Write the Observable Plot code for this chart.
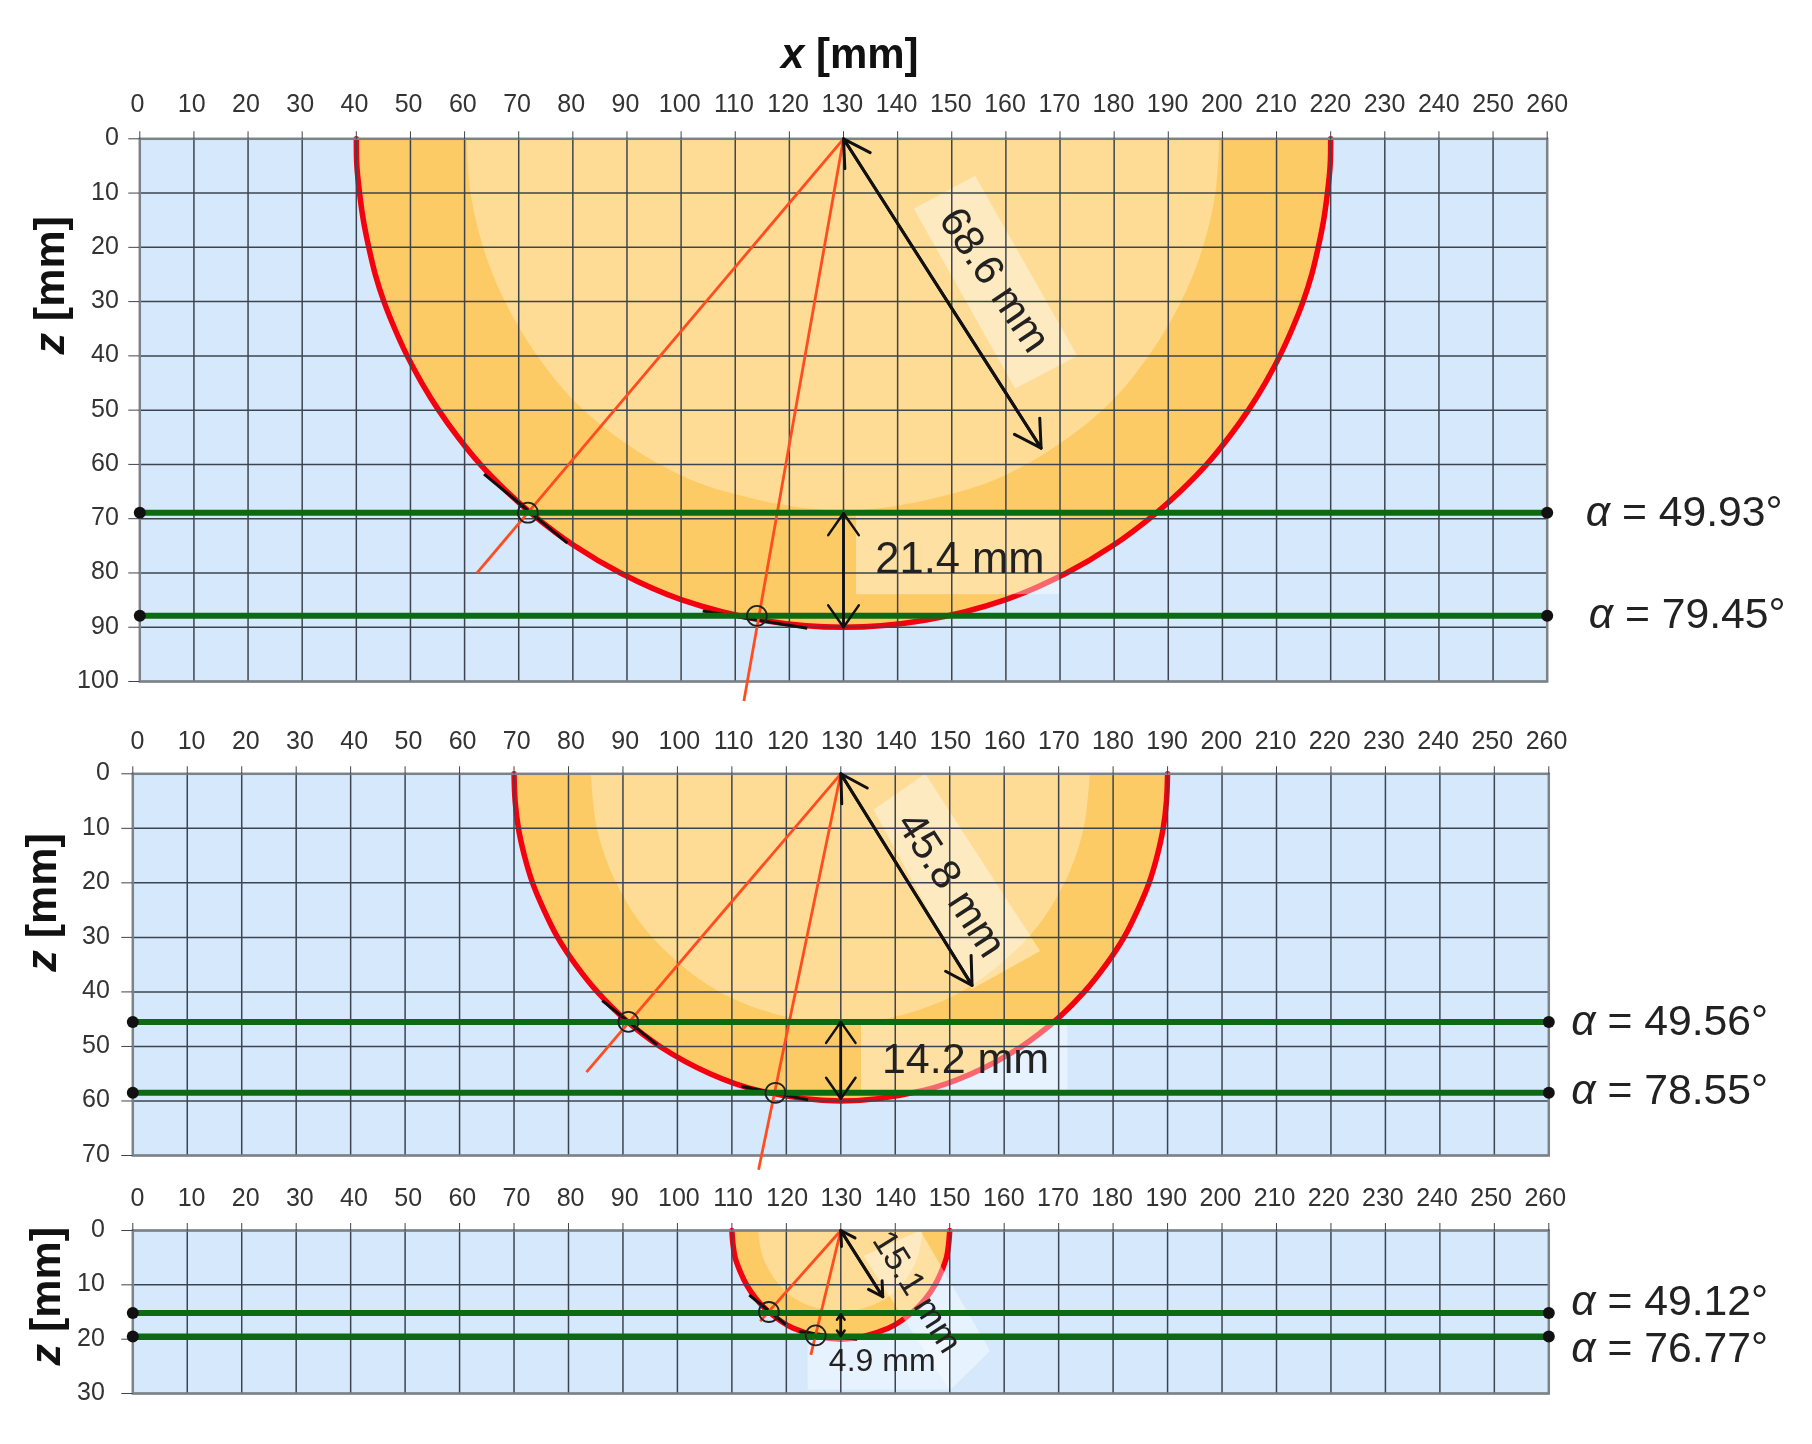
<!DOCTYPE html>
<html>
<head>
<meta charset="utf-8">
<script src="https://cdn.jsdelivr.net/npm/d3@7"></script>
<script src="https://cdn.jsdelivr.net/npm/@observablehq/plot@0.6"></script>
<style>
  html,body{margin:0;padding:0;background:#fff}
  svg{display:block;filter:blur(.45px)}
</style>
</head>
<body>
<div id="chart"></div>
<script>
// ---- axis ticks
const xTicks = [0,10,20,30,40,50,60,70,80,90,100,110,120,130,140,150,160,170,180,190,200,210,220,230,240,250,260];
const zTicks1 = [0,10,20,30,40,50,60,70,80,90,100];
const zTicks2 = [0,10,20,30,40,50,60,70];
const zTicks3 = [0,10,20,30];

// ---- profile readings (x, z in mm)
const outerX1 = [40,40.1,40.6,41.3,42.3,43.5,45.1,47.1,49.4,52.1,55.2,58.8,62.9,67.8,72.3,80.3,88.8,100,115,130,145,160,171.2,179.7,187.7,192.2,197.1,201.2,204.8,207.9,210.6,212.9,214.9,216.5,217.7,218.7,219.4,219.9,220];
const outerZ1 = [0,5,10,15,20,25,30,35,40,45,50,55,60,65,69,75,80,84.9,88.7,90,88.7,84.9,80,75,69,65,60,55,50,45,40,35,30,25,20,15,10,5,0];
const innerX1 = [60.5,61.2,63.5,67.5,73.5,82,96,108,130,152,164,178,186.5,192.5,196.5,198.8,199.5];
const innerZ1 = [0,10,20,30,40,50,60,65,68.6,65,60,50,40,30,20,10,0];
const outerX2 = [70,70.2,70.8,71.9,73.4,75.5,78,81.3,85.3,90.3,96.8,106,114.6,130,145.4,154,163.2,169.7,174.7,178.7,182,184.5,186.6,188.1,189.2,189.8,190];
const outerZ2 = [0,5,10,15,20,25,30,35,40,45,50,55,58,60,58,55,50,45,40,35,30,25,20,15,10,5,0];
const innerX2 = [84.2,85.3,88.8,95.4,107.7,121.5,130,138.5,152.3,164.6,171.2,174.7,175.8];
const innerZ2 = [0,10,20,30,40,45,45.8,45,40,30,20,10,0];
const outerX3 = [110,110.2,110.6,111.5,112.7,114.4,116.8,121.3,130,138.7,143.2,145.6,147.3,148.5,149.4,149.8,150];
const outerZ3 = [0,2.5,5,7.5,10,12.5,15,18,20,18,15,12.5,10,7.5,5,2.5,0];
const innerX3 = [114.9,115.8,118.7,122.3,130,137.7,141.3,144.2,145.1];
const innerZ3 = [0,5,10,13,15.1,13,10,5,0];

// ---- green levels and the intersection points
const levels1 = [68.9,87.9];
const levels2 = [45.5,58.5];
const levels3 = [15.2,19.5];
const hitX1 = [71.7,114];
const hitX2 = [91,118];
const hitX3 = [116.8,125.4];
const hitZ3 = [15,19.3];

// ---- orange radial lines: far end
const rayEndX1 = [62.3,111.6];
const rayEndZ1 = [80,103.6];
const rayEndX2 = [83.3,114.9];
const rayEndZ2 = [54.7,72.6];
const rayEndX3 = [115.2,124.5];
const rayEndZ3 = [16.7,22.9];
const rayOrigin = [130,0];

// ---- black tangents [x1,z1,x2,z2]
const tangents1 = [[63.6,61.8,79,74.5],[104,87,123.3,90.2]];
const tangents2 = [[86.2,41.6,96.3,49.7],[111.7,57.3,124,59.8]];
const tangents3 = [[113.2,11.9,119.9,17.3],[122.3,18.6,133,20]];

// ---- dimension arrows
const radiusEnd1 = [166.5,57];
const radiusEnd2 = [154.1,38.8];
const radiusEnd3 = [137.7,12.2];
const gapZ1 = [69,90];
const gapZ2 = [45.5,59.6];
const gapZ3 = [15.4,19.4];

// ---- annotation texts
const radiusText = ["68.6 mm","45.8 mm","15.1 mm"];
const radiusTextPos = [[157.9,26],[150.3,20.3],[144,11.3]];
const radiusAngle = [56,57,58];
const radiusSize = [42,42,35];
const gapText = ["21.4 mm","14.2 mm","4.9 mm"];
const gapTextPos = [[151.5,77.5],[152.9,52.3],[137.6,24]];
const gapSize = [43.5,43,32];
const alpha1 = ["α = 49.93°","α = 79.45°"];
const alpha2 = ["α = 49.56°","α = 78.55°"];
const alpha3 = ["α = 49.12°","α = 76.77°"];
const alphaZ1 = [68.9,87.7];
const alphaZ2 = [45.4,58.1];
const alphaZ3 = [13.1,21.6];
const alphaDx1 = [38.5,41.5];
const alphaDx2 = [22.4,22.4];
const alphaDx3 = [22.4,22.4];

// ---- white label backings
const polyX1 = [154.3,173.2,161.7,143];
const polyZ1 = [6.8,40,46,12.9];
const polyX2 = [145.5,166.6,154,136];
const polyZ2 = [0,32.5,39.5,6.6];
const polyX3 = [144.6,157.4,150,134.2];
const polyZ3 = [0,22.2,29.4,4.7];
const rect1 = [132.4,170,69.5,84];
const rect2 = [133.8,171.7,45.5,58.5];
const rect3 = [124,150,20,29.4];

const COL = {bg:"#d6e9fc",outer:"#fdcb66",inner:"#fedc96",red:"#f5000f",green:"#0b6a12",ray:"#ff4d1f",grid:"#3d4450",frame:"#7d8288",text:"#222222",tick:"#333333"};
const zip = (xs,zs)=>xs.map((x,i)=>({x,z:zs[i]}));

function panel(o){
  const marks = [
    Plot.frame({fill:COL.bg,stroke:null}),
    Plot.areaY(zip(o.outerX,o.outerZ),{x:"x",y1:0,y2:"z",fill:COL.outer,curve:"catmull-rom"}),
    Plot.areaY(zip(o.innerX,o.innerZ),{x:"x",y1:0,y2:"z",fill:COL.inner,curve:"catmull-rom"}),
    Plot.line(zip(o.outerX,o.outerZ),{x:"x",y:"z",stroke:COL.red,strokeWidth:5.5,curve:"catmull-rom"}),
    Plot.line(zip(o.polyX,o.polyZ),{x:"x",y:"z",fill:"white",fillOpacity:.4,stroke:"none"}),
    Plot.rect([o.rect],{x1:d=>d[0],x2:d=>d[1],y1:d=>d[2],y2:d=>d[3],fill:"white",fillOpacity:.4}),
    Plot.ruleX(xTicks,{stroke:COL.grid,strokeWidth:1.5}),
    Plot.ruleY(o.zTicks,{stroke:COL.grid,strokeWidth:1.5}),
    Plot.frame({stroke:COL.frame,strokeWidth:2.5}),
    Plot.axisX(xTicks,{anchor:"top",tickSize:8,tickPadding:o.xPad,fontSize:25,stroke:COL.grid,fill:COL.tick,label:null,tickFormat:d=>d}),
    Plot.axisY(o.zTicks,{anchor:"left",tickSize:11,tickPadding:o.yPad,fontSize:25,stroke:COL.grid,fill:COL.tick,label:null,tickFormat:d=>d}),
    // tangents
    Plot.link(o.tangents,{x1:d=>d[0],y1:d=>d[1],x2:d=>d[2],y2:d=>d[3],stroke:"#111",strokeWidth:3}),
    // rays
    Plot.link(o.rayX.map((x,i)=>[x,o.rayZ[i]]),{x1:()=>rayOrigin[0],y1:()=>rayOrigin[1],x2:d=>d[0],y2:d=>d[1],stroke:COL.ray,strokeWidth:2.8}),
    // green levels
    Plot.ruleY(o.levels,{x1:0,x2:260,stroke:COL.green,strokeWidth:6}),
    Plot.dot(o.levels.flatMap(z=>[[0,z],[260,z]]),{x:d=>d[0],y:d=>d[1],r:6,fill:"#111",stroke:"none"}),
    Plot.dot(o.hitX.map((x,i)=>[x,o.hitZ[i]]),{x:d=>d[0],y:d=>d[1],r:10,fill:"none",stroke:"#222",strokeWidth:1.8}),
    // arrows
    Plot.arrow([o.radiusEnd],{x1:()=>rayOrigin[0],y1:()=>rayOrigin[1],x2:d=>d[0],y2:d=>d[1],stroke:"#111",strokeWidth:3,headLength:o.head,headAngle:60}),
    Plot.arrow([o.radiusEnd],{x1:d=>d[0],y1:d=>d[1],x2:()=>rayOrigin[0],y2:()=>rayOrigin[1],stroke:"#111",strokeWidth:3,headLength:o.head,headAngle:60}),
    Plot.arrow([o.gap],{x1:()=>rayOrigin[0],y1:d=>d[1],x2:()=>rayOrigin[0],y2:d=>d[0],stroke:"#111",strokeWidth:2.5,headLength:o.gapHead,headAngle:70}),
    Plot.arrow([o.gap],{x1:()=>rayOrigin[0],y1:d=>d[0],x2:()=>rayOrigin[0],y2:d=>d[1],stroke:"#111",strokeWidth:2.5,headLength:o.gapHead,headAngle:70}),
    // texts
    Plot.text([o.radiusText],{x:()=>o.radiusPos[0],y:()=>o.radiusPos[1],text:d=>d,rotate:o.radiusAngle,fontSize:o.radiusSize,fill:COL.text}),
    Plot.text([o.gapText],{x:()=>o.gapPos[0],y:()=>o.gapPos[1],text:d=>d,fontSize:o.gapSize,fill:COL.text}),
    Plot.text(o.alpha,{x:()=>260,y:(d,i)=>o.alphaZ[i],text:d=>d,textAnchor:"start",fontSize:42.7,fill:COL.text,
      render(index,scales,values,dims,ctx,next){
        const g=next(index,scales,values,dims,ctx);
        d3.select(g).selectAll("text").attr("transform",function(d,k){
          return this.getAttribute("transform")+` translate(${o.alphaDx[index[k]]},0)`;
        });
        return g;
      }}),
    Plot.text([o.zLabel],{x:()=>0,y:()=>o.zLabelPos,text:d=>d,dx:o.zLabelDx,rotate:-90,fontSize:43,fontWeight:"bold",fill:"#111"})
  ];
  if(o.title) marks.push(Plot.text([o.title],{x:()=>131.15,y:()=>0,dy:-84,text:d=>d,fontSize:42,fontWeight:"bold",fill:"#111"}));
  const svg = Plot.plot({
    width:1812,height:o.height,
    marginTop:o.mt,marginBottom:o.height-o.mt-o.plotH,marginLeft:o.ml,marginRight:1812-o.ml-o.plotW,
    x:{domain:[0,260],axis:null},
    y:{domain:[o.zMax,0],axis:null},
    style:{fontFamily:"'Liberation Sans',Arial,sans-serif",background:"transparent",overflow:"visible"},
    marks
  });
  // the reference's tick labels sit slightly off their ticks
  const xLab=[...svg.querySelectorAll('g[aria-label="x-axis tick label"] text')];
  xLab.forEach((t,i)=>t.setAttribute("dx",o.xShift[0]+(o.xShift[1]-o.xShift[0])*i/(xLab.length-1)));
  svg.querySelectorAll('g[aria-label="y-axis tick label"] text').forEach(t=>t.setAttribute("dy",-1.5));
  // italic symbol inside real text
  svg.querySelectorAll("text").forEach(t=>{
    const s=t.textContent;
    if(t.children.length===0 && /^(α|x \[|z \[)/.test(s)){
      t.textContent="";
      const a=document.createElementNS("http://www.w3.org/2000/svg","tspan");
      a.setAttribute("font-style","italic");a.textContent=s[0];
      t.append(a,s.slice(1));
    }
  });
  return svg;
}

const host=document.getElementById("chart");
host.append(
  panel({height:720,mt:138.3,plotH:542.7,ml:139.3,plotW:1407.4,zMax:100,zTicks:zTicks1,xPad:18.6,yPad:10,xShift:[-2.3,0],
    outerX:outerX1,outerZ:outerZ1,innerX:innerX1,innerZ:innerZ1,polyX:polyX1,polyZ:polyZ1,rect:rect1,
    tangents:tangents1,rayX:rayEndX1,rayZ:rayEndZ1,levels:levels1,hitX:hitX1,hitZ:levels1,
    radiusEnd:radiusEnd1,gap:gapZ1,radiusText:radiusText[0],radiusPos:radiusTextPos[0],radiusAngle:radiusAngle[0],radiusSize:radiusSize[0],
    gapText:gapText[0],gapPos:gapTextPos[0],gapSize:gapSize[0],alpha:alpha1,alphaZ:alphaZ1,alphaDx:alphaDx1,
    zLabel:"z [mm]",zLabelPos:27,zLabelDx:-90,title:"x [mm]",head:15,gapHead:16}),
  panel({height:460,mt:53.3,plotH:381.7,ml:132.3,plotW:1416,zMax:70,zTicks:zTicks2,xPad:17,yPad:12,xShift:[4.6,-2.3],
    outerX:outerX2,outerZ:outerZ2,innerX:innerX2,innerZ:innerZ2,polyX:polyX2,polyZ:polyZ2,rect:rect2,
    tangents:tangents2,rayX:rayEndX2,rayZ:rayEndZ2,levels:levels2,hitX:hitX2,hitZ:levels2,
    radiusEnd:radiusEnd2,gap:gapZ2,radiusText:radiusText[1],radiusPos:radiusTextPos[1],radiusAngle:radiusAngle[1],radiusSize:radiusSize[1],
    gapText:gapText[1],gapPos:gapTextPos[1],gapSize:gapSize[1],alpha:alpha2,alphaZ:alphaZ2,alphaDx:alphaDx2,
    zLabel:"z [mm]",zLabelPos:23.6,zLabelDx:-91,head:15,gapHead:16}),
  panel({height:264,mt:50,plotH:163,ml:132.3,plotW:1416,zMax:30,zTicks:zTicks3,xPad:17,yPad:17,xShift:[4.6,-3.5],
    outerX:outerX3,outerZ:outerZ3,innerX:innerX3,innerZ:innerZ3,polyX:polyX3,polyZ:polyZ3,rect:rect3,
    tangents:tangents3,rayX:rayEndX3,rayZ:rayEndZ3,levels:levels3,hitX:hitX3,hitZ:hitZ3,
    radiusEnd:radiusEnd3,gap:gapZ3,radiusText:radiusText[2],radiusPos:radiusTextPos[2],radiusAngle:radiusAngle[2],radiusSize:radiusSize[2],
    gapText:gapText[2],gapPos:gapTextPos[2],gapSize:gapSize[2],alpha:alpha3,alphaZ:alphaZ3,alphaDx:alphaDx3,
    zLabel:"z [mm]",zLabelPos:12.1,zLabelDx:-87,head:8,gapHead:4})
);
</script>
</body>
</html>
